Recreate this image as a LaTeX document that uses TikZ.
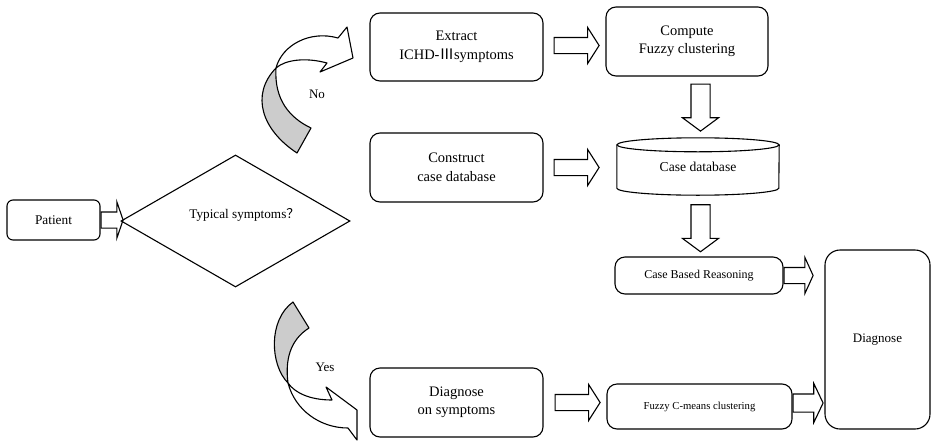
\documentclass[tikz,border=0pt]{standalone}
\usepackage{fontspec}
\setmainfont{Liberation Serif}
\newfontfamily\cjk{Noto Sans CJK SC}
\usetikzlibrary{calc,positioning,shapes.geometric,shapes.arrows}
\definecolor{twistgray}{gray}{0.8}
\tikzset{
    procbox/.style={draw, line width=1.1pt, rounded corners=10pt, align=center, inner sep=0pt, font=\fontsize{14.5}{18.5}\selectfont},
    blk/.style={draw, single arrow, line width=1.1pt, inner xsep=0pt, inner ysep=7.5pt, single arrow head extend=10pt, single arrow tip angle=115, minimum height=45pt, anchor=tail},
    twistarrow/.style={draw, line width=1.1pt, line join=round}
}
\begin{document}
\begin{tikzpicture}[x=1pt,y=-1pt]
    \useasboundingbox (0,0) rectangle (931,442);
    \node[procbox, rounded corners=6pt, minimum width=93pt, minimum height=40pt, font=\fontsize{13.3}{16}\selectfont] (pat) at (53.5,220) {Patient};
    \node[draw, diamond, line width=1.1pt, minimum width=229pt, minimum height=132pt, inner sep=0pt] (typ) at (235.5,221) {};
    \node[font=\fontsize{13.2}{16}\selectfont] (typtxt) at (244.5,215) {Typical symptoms{\cjk ？}};
    \node[procbox, minimum width=173pt, minimum height=68pt] (ext) at (456.5,47) {Extract\\ICHD-{\cjk Ⅲ}symptoms};
    \node[procbox, minimum width=173pt, minimum height=69pt] (con) at (456.5,167.5) {Construct\\case database};
    \node[procbox, minimum width=173pt, minimum height=69pt] (dos) at (456.5,402.5) {Diagnose\\on symptoms};
    \node[procbox, minimum width=162pt, minimum height=69pt] (cmp) at (687,41.5) {Compute\\Fuzzy clustering};
    \node[minimum width=162pt, minimum height=43pt, inner sep=0pt, font=\fontsize{13.6}{16}\selectfont] (cdb) at (698,166.5) {Case database};
    \draw[line width=1.1pt] (cdb.north west) -- (cdb.south west) arc[start angle=180, end angle=0, x radius=81, y radius=7] -- (cdb.north east);
    \draw[line width=1.1pt] (cdb.north) ellipse [x radius=81, y radius=7];
    \node[procbox, minimum width=168pt, minimum height=37pt, font=\fontsize{12}{14}\selectfont] (cbr) at (699,275.5) {Case Based Reasoning};
    \node[procbox, minimum width=185pt, minimum height=45pt, font=\fontsize{10.7}{13}\selectfont] (fcm) at (699.5,406.5) {Fuzzy C-means clustering};
    \node[procbox, rounded corners=15pt, minimum width=105pt, minimum height=179pt, font=\fontsize{13}{16}\selectfont] (dia) at (877.5,339.5) {Diagnose};
    \node[blk, minimum height=22pt, single arrow tip angle=142, single arrow head extend=10pt] (a1) at (pat.east) {};
    \node[blk] (a2) at ($(ext.east)+(10,-1.5)$) {};
    \node[blk] (a3) at ($(con.east)+(10,0)$) {};
    \node[blk] (a4) at ($(dos.east)+(11,0)$) {};
    \node[blk, rotate=-90, inner ysep=9pt, single arrow head extend=8.5pt, single arrow tip angle=107, minimum height=47pt] (a5) at ($(cmp.south)+(13.5,7)$) {};
    \node[blk, rotate=-90, inner ysep=9pt, single arrow head extend=8.5pt, single arrow tip angle=107, minimum height=47pt] (a6) at ($(cdb.south)+(2.5,16)$) {};
    \node[blk, minimum height=29pt, single arrow tip angle=131] (a7) at (cbr.east) {};
    \node[blk, minimum height=30pt, inner ysep=8.5pt, single arrow head extend=10.5pt, single arrow tip angle=129] (a8) at ($(fcm.east)+(0,-3.5)$) {};
    \draw[twistarrow, fill=twistgray] (276,68) .. controls (250,95) and (262,130) .. (297,153) -- (311,128) .. controls (290,118) and (274,100) .. (276,68);
    \draw[twistarrow, fill=white] (276,68) .. controls (282,45) and (310,30) .. (338,38) -- (347,27) -- (353,58) -- (320,72) -- (327,63) .. controls (305,57) and (285,60) .. (276,68);
    \node[font=\fontsize{13}{16}\selectfont] (notxt) at (317,94) {No};
    \draw[twistarrow, fill=twistgray] (293,302) .. controls (268,320) and (270,365) .. (288,383) .. controls (285,360) and (290,340) .. (309,328) -- cycle;
    \draw[twistarrow, fill=white] (288,383) .. controls (295,410) and (320,428) .. (348,428) -- (357,440) -- (357,410) -- (326,387) -- (332,400) .. controls (310,400) and (295,393) .. (288,383);
    \node[font=\fontsize{13}{16}\selectfont] (yestxt) at (325,367) {Yes};
\end{tikzpicture}
\end{document}
